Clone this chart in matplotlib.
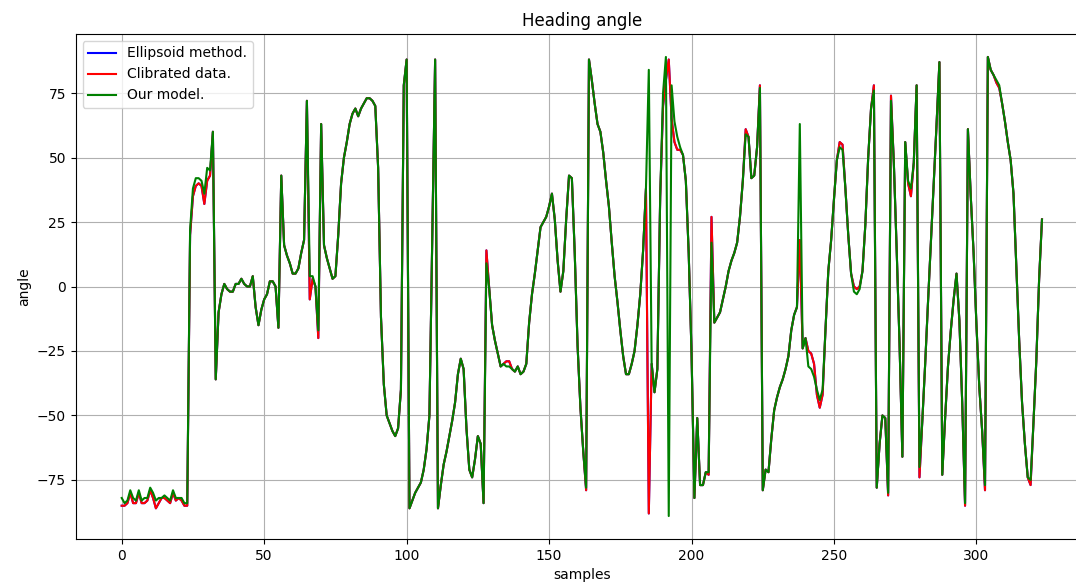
import matplotlib
matplotlib.use("Agg")
import matplotlib.pyplot as plt
import numpy as np

title = "Heading angle"
x_label = "samples"
y_label = "angle"
legend_labels = ["Ellipsoid method.", "Clibrated data.", "Our model."]

calibrated = [
    -85, -85, -84, -80, -84, -84, -80, -84, -84, -83,
    -79, -82, -86, -84, -82, -82, -83, -84, -80, -83,
    -82, -83, -85, -85, 20, 35, 39, 40, 39, 32,
    41, 43, 60, -36, -10, -3, 1, -1, -2, -2,
    1, 1, 3, 1, 0, 0, 4, -8, -15, -9,
    -5, -3, 2, 2, 0, -16, 43, 16, 12, 9,
    5, 5, 7, 13, 18, 72, -5, 3, 0, -20,
    63, 16, 11, 7, 3, 4, 20, 40, 50, 56,
    63, 67, 69, 66, 69, 71, 73, 73, 72, 70,
    46, -12, -38, -50, -53, -56, -58, -55, -40, 78,
    88, -86, -83, -80, -78, -76, -71, -63, -50, 20,
    88, -86, -77, -69, -64, -58, -52, -45, -34, -28,
    -32, -55, -71, -74, -67, -58, -61, -84, 14, -1,
    -15, -21, -26, -31, -30, -29, -29, -32, -33, -31,
    -34, -33, -30, -14, -3, 5, 14, 23, 25, 27,
    31, 36, 26, 10, -2, 6, 26, 43, 42, 13,
    -23, -47, -64, -79, 88, 80, 71, 63, 60, 52,
    41, 31, 17, 4, -6, -17, -27, -34, -34, -30,
    -25, -15, -3, 14, 38, -88, -30, -41, -32, 35,
    70, 80, 88, 65, 56, 53, 53, 51, 41, 13,
    -26, -82, -51, -77, -77, -72, -73, 27, -14, -12,
    -10, -5, 0, 6, 10, 13, 17, 27, 41, 61,
    58, 42, 43, 54, 78, -79, -71, -72, -59, -48,
    -43, -39, -36, -32, -27, -17, -11, -8, 18, -24,
    -20, -25, -26, -30, -42, -47, -42, -17, 6, 18,
    34, 49, 56, 55, 38, 20, 5, 0, -1, 0,
    6, 24, 50, 69, 78, -78, -61, -50, -51, -81,
    74, 48, 14, -22, -66, 56, 40, 35, 48, 78,
    -74, -52, -30, -6, 17, 40, 63, 87, -73, -51,
    -31, -17, -5, 5, -13, -45, -85, 61, 35, 13,
    -15, -39, -56, -79, 89, 84, 82, 79, 77, 71,
    64, 56, 49, 36, 8, -21, -45, -61, -74, -77,
    -53, -29, 3, 26,
]

our_model = [
    -82, -84, -83, -79, -82, -83, -79, -83, -82, -82,
    -78, -80, -83, -82, -82, -81, -82, -83, -79, -82,
    -82, -82, -84, -84, 22, 38, 42, 42, 41, 36,
    46, 45, 60, -36, -10, -3, 1, -1, -2, -2,
    1, 1, 3, 1, 0, 0, 4, -8, -15, -9,
    -5, -3, 2, 2, 0, -16, 43, 16, 12, 9,
    5, 5, 7, 13, 18, 72, 4, 4, 0, -17,
    63, 16, 11, 7, 3, 4, 20, 40, 50, 56,
    63, 67, 69, 66, 69, 71, 73, 73, 72, 70,
    46, -12, -38, -50, -53, -56, -58, -55, -40, 78,
    88, -86, -83, -80, -78, -76, -71, -63, -50, 20,
    88, -86, -77, -69, -64, -58, -52, -45, -34, -28,
    -32, -55, -71, -74, -67, -58, -61, -84, 9, -1,
    -15, -21, -26, -31, -30, -31, -31, -32, -33, -31,
    -34, -33, -30, -14, -3, 5, 14, 23, 25, 27,
    31, 36, 26, 10, -2, 6, 26, 43, 42, 13,
    -23, -47, -64, -78, 88, 80, 71, 63, 60, 52,
    41, 31, 17, 4, -6, -17, -27, -34, -34, -30,
    -25, -15, -3, 14, 38, 84, -30, -41, -32, 35,
    75, 89, -89, 78, 64, 58, 54, 51, 41, 13,
    -26, -82, -51, -77, -77, -72, -72, 17, -14, -12,
    -10, -5, 0, 6, 10, 13, 17, 27, 41, 59,
    58, 42, 43, 54, 77, -79, -71, -72, -59, -48,
    -43, -39, -36, -32, -27, -17, -11, -8, 63, -24,
    -20, -31, -32, -35, -40, -44, -40, -17, 6, 18,
    34, 49, 54, 53, 38, 20, 5, -2, -3, -1,
    6, 24, 50, 69, 76, -78, -61, -50, -51, -80,
    72, 48, 14, -22, -66, 56, 41, 38, 48, 78,
    -70, -52, -30, -6, 17, 40, 63, 87, -73, -51,
    -31, -17, -5, 5, -13, -45, -84, 61, 35, 13,
    -15, -39, -56, -77, 89, 84, 82, 80, 78, 71,
    64, 56, 49, 36, 8, -21, -45, -61, -74, -75,
    -53, -29, 3, 26,
]

# The blue curve is completely hidden under the red one.
ellipsoid = list(calibrated)

samples = np.arange(len(calibrated))

W, H = 1076, 584
fig = plt.figure(figsize=(W / 100, H / 100), dpi=100)
left, right, top, bottom = 75.7, 1088, 34, 539
ax = fig.add_axes([left / W, 1 - bottom / H, (right - left) / W, (bottom - top) / H])

ax.plot(samples, ellipsoid, color="blue", label=legend_labels[0], linewidth=1.5)
ax.plot(samples, calibrated, color="red", label=legend_labels[1], linewidth=1.5)
ax.plot(samples, our_model, color="green", label=legend_labels[2], linewidth=1.5)

ax.set_title(title, fontsize=12)
ax.set_xlabel(x_label, fontsize=10)
ax.set_ylabel(y_label, fontsize=10)
ax.set_xticks([0, 50, 100, 150, 200, 250, 300])
ax.set_yticks([-75, -50, -25, 0, 25, 50, 75])
ax.grid(True)
ax.legend(loc="upper left")

fig.savefig("out.png", dpi=100)
